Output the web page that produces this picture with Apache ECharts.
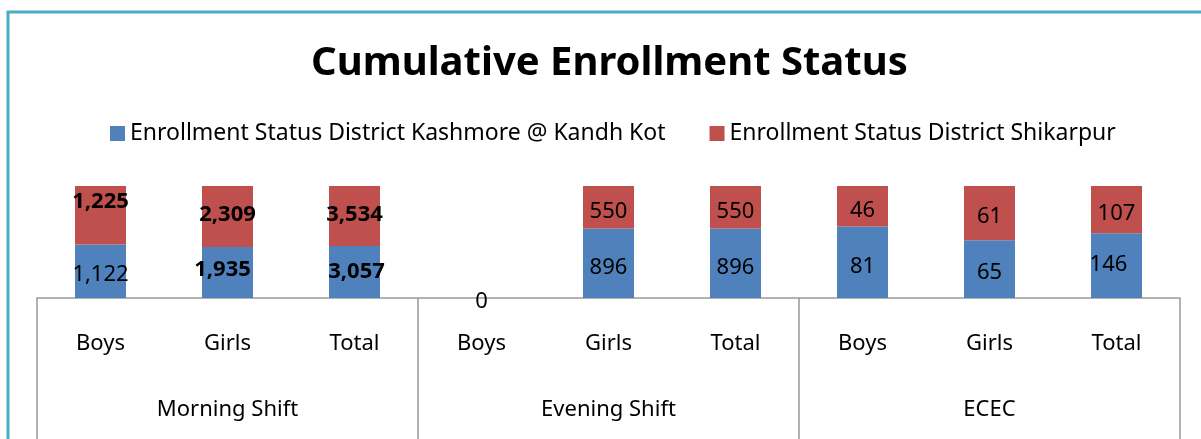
<!DOCTYPE html>
<html>
<head>
<meta charset="utf-8">
<script src="https://cdn.jsdelivr.net/npm/echarts@6/dist/echarts.min.js"></script>
<style>
  html, body { margin: 0; padding: 0; background: #fff; }
  #main { width: 1201px; height: 439px; }
</style>
</head>
<body>
<div id="main"></div>
<script>
// sub categories (first axis row) and groups (second axis row)
var categories = ['Boys', 'Girls', 'Total', 'Boys', 'Girls', 'Total', 'Boys', 'Girls', 'Total'];
var groups = ['Morning Shift', 'Evening Shift', 'ECEC'];
var seriesNames = ['Enrollment Status District Kashmore @ Kandh Kot', 'Enrollment Status District Shikarpur'];
var kashmore = [1122, 1935, 3057, 0, 896, 896, 81, 65, 146];
var shikarpur = [1225, 2309, 3534, 0, 550, 550, 46, 61, 107];

var chart = echarts.init(document.getElementById('main'));
var FONT = 'Noto Sans';

// 100% stacked: each column is the share of the two districts
function share(arr, i) {
    var sum = kashmore[i] + shikarpur[i];
    return sum ? arr[i] / sum : 0;
}
function fmt(v) { return v.toLocaleString('en-US'); }

// label tweaks (the source had hand placed labels)
var boldK = [1, 2], boldS = [0, 1, 2];
var nudgeK = {1: [-5, -7], 2: [2, -4], 8: [-8, -5]};
var nudgeS = {0: [0, -17], 1: [0, -6], 2: [0, -5]};

function buildData(arr, bold, nudge, hideZero) {
    return arr.map(function (v, i) {
        var n = nudge[i] || [0, 0];
        var lab = {
            fontWeight: bold.indexOf(i) >= 0 ? 'bold' : 'normal',
            offset: [n[0], n[1] + 4]
        };
        if (hideZero && v === 0) lab.show = false;
        return { value: share(arr, i), raw: v, label: lab };
    });
}

var option = {
    animation: false,
    title: {
        text: 'Cumulative Enrollment Status',
        left: 311,
        top: 44,
        padding: 0,
        textStyle: { fontFamily: FONT, fontSize: 40, fontWeight: 'bold', color: '#000' }
    },
    legend: {
        top: 122,
        left: 110,
        icon: 'rect',
        itemWidth: 15,
        itemHeight: 15,
        itemGap: 44,
        padding: 0,
        textStyle: { fontFamily: FONT, fontSize: 23, color: '#000' },
        data: seriesNames
    },
    color: ['#4F81BD', '#C0504D'],
    grid: { left: 37, right: 21, top: 186, bottom: 141 },
    xAxis: [
        {
            type: 'category',
            data: categories,
            axisLine: { show: true, lineStyle: { color: '#999', width: 1.5 } },
            axisTick: { show: false },
            axisLabel: { margin: 35, fontFamily: FONT, fontSize: 22, color: '#000' }
        },
        {
            type: 'category',
            data: groups,
            position: 'bottom',
            axisLine: { show: false },
            axisTick: { show: true, length: 145, lineStyle: { color: '#999', width: 1.5 } },
            axisLabel: { margin: 101, fontFamily: FONT, fontSize: 22, color: '#000' }
        }
    ],
    yAxis: {
        type: 'value',
        min: 0,
        max: 1,
        show: false,
        splitLine: { show: false }
    },
    graphic: [{
        type: 'rect',
        shape: { x: 8, y: 12, width: 1400, height: 600 },
        style: { fill: 'none', stroke: '#4BACC6', lineWidth: 3 },
        silent: true
    }],
    series: [
        {
            name: seriesNames[0],
            type: 'bar',
            stack: 'all',
            barWidth: 51,
            data: buildData(kashmore, boldK, nudgeK, false),
            label: {
                show: true,
                position: 'inside',
                fontFamily: FONT,
                fontSize: 22,
                color: '#000',
                formatter: function (p) { return fmt(p.data.raw); }
            }
        },
        {
            name: seriesNames[1],
            type: 'bar',
            stack: 'all',
            barWidth: 51,
            data: buildData(shikarpur, boldS, nudgeS, true),
            label: {
                show: true,
                position: 'inside',
                fontFamily: FONT,
                fontSize: 22,
                color: '#000',
                formatter: function (p) { return fmt(p.data.raw); }
            }
        }
    ]
};

chart.setOption(option);
</script>
</body>
</html>
